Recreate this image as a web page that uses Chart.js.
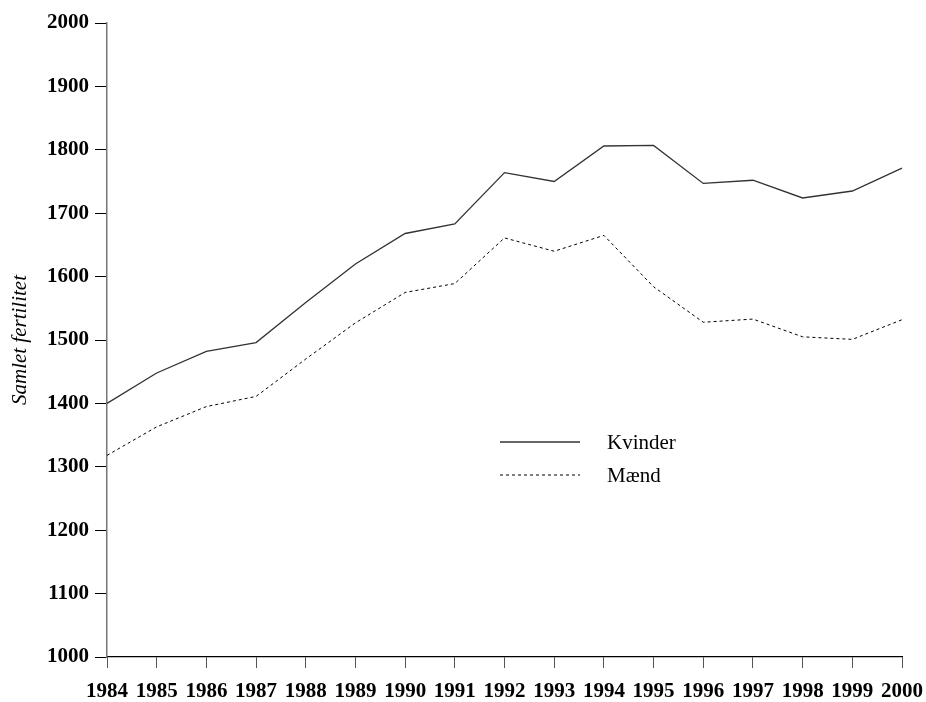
<!DOCTYPE html>
<html>
<head>
<meta charset="utf-8">
<script src="https://cdn.jsdelivr.net/npm/chart.js@4/dist/chart.umd.min.js"></script>
<style>
  html, body { margin: 0; padding: 0; background: #fff; }
  #wrap { width: 926px; height: 702px; position: relative; }
</style>
</head>
<body>
<div id="wrap"><canvas id="chart"></canvas></div>
<script>
// Years on the x axis
const years = ['1984', '1985', '1986', '1987', '1988', '1989', '1990', '1991', '1992',
  '1993', '1994', '1995', '1996', '1997', '1998', '1999', '2000'];

// Samlet fertilitet per year
const kvinder = [1400, 1448, 1482, 1496, 1559, 1620, 1668, 1683, 1764,
  1750, 1806, 1807, 1747, 1752, 1724, 1735, 1771];
const maend = [1318, 1363, 1395, 1411, 1470, 1527, 1575, 1589, 1661,
  1640, 1665, 1584, 1528, 1533, 1505, 1501, 1532];

const yTitle = 'Samlet fertilitet';
const serif = '"Liberation Serif", "Times New Roman", serif';

// Legend drawn inside the plot, like the original
const innerLegend = {
  id: 'innerLegend',
  afterDraw(chart) {
    const ctx = chart.ctx;
    const x0 = 500, x1 = 580, tx = 607;
    const rows = [442, 475];
    ctx.save();
    chart.data.datasets.forEach((ds, i) => {
      const y = rows[i];
      ctx.beginPath();
      ctx.strokeStyle = ds.borderColor;
      ctx.lineWidth = ds.borderWidth;
      ctx.setLineDash(ds.borderDash || []);
      ctx.moveTo(x0, y);
      ctx.lineTo(x1, y);
      ctx.stroke();
      ctx.setLineDash([]);
      ctx.fillStyle = '#000';
      ctx.font = '21px ' + serif;
      ctx.textBaseline = 'middle';
      ctx.fillText(ds.label, tx, y + 1);
    });
    ctx.restore();
  }
};

new Chart(document.getElementById('chart'), {
  type: 'line',
  data: {
    labels: years,
    datasets: [{
      label: 'Kvinder',
      data: kvinder,
      borderColor: '#333',
      borderWidth: 1.3,
      pointRadius: 0,
      tension: 0
    }, {
      label: 'Mænd',
      data: maend,
      borderColor: '#000',
      borderWidth: 1,
      borderDash: [3, 3],
      pointRadius: 0,
      tension: 0
    }]
  },
  options: {
    responsive: true,
    maintainAspectRatio: false,
    animation: false,
    layout: { padding: { top: 23, right: 24, left: 0, bottom: 0 } },
    plugins: {
      legend: { display: false },
      tooltip: { enabled: false }
    },
    scales: {
      x: {
        offset: false,
        border: { color: '#000', width: 1.3 },
        grid: { drawOnChartArea: false, drawTicks: true, tickLength: 11, color: '#555' },
        ticks: {
          color: '#000',
          padding: 11,
          maxRotation: 0,
          autoSkip: false,
          font: { family: serif, size: 21, weight: 'bold' }
        },
        afterFit(scale) {
          scale.height = 45;
          scale.paddingRight = 0;
          scale.paddingLeft = 0;
        }
      },
      y: {
        min: 1000,
        max: 2000,
        border: { color: '#777', width: 1.5 },
        grid: { drawOnChartArea: false, drawTicks: true, tickLength: 12, color: '#000' },
        ticks: {
          stepSize: 100,
          color: '#000',
          padding: 6,
          font: { family: serif, size: 21, weight: 'bold' },
          callback: value => String(value)
        },
        title: {
          display: true,
          text: yTitle,
          color: '#000',
          padding: { top: 8, bottom: 0 },
          font: { family: serif, size: 21, style: 'italic' }
        },
        afterFit(scale) { scale.width = 107; }
      }
    }
  },
  plugins: [innerLegend]
});
</script>
</body>
</html>
